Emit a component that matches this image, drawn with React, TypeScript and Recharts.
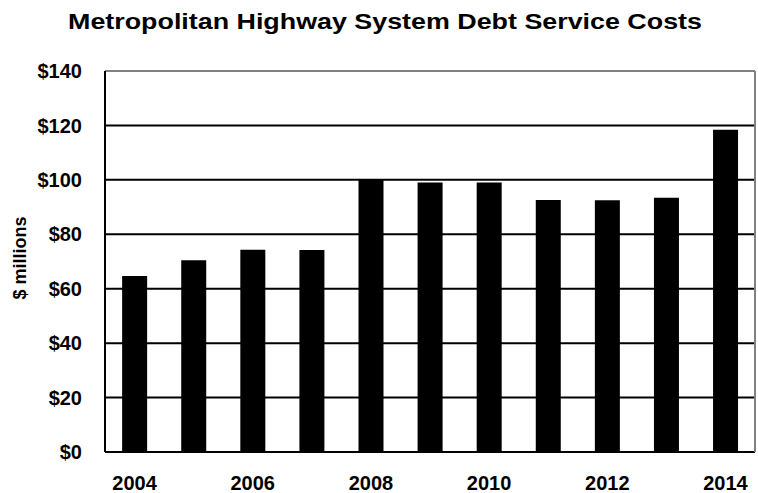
import React from "react";
import {
  BarChart,
  Bar,
  XAxis,
  YAxis,
  CartesianGrid,
  ReferenceLine,
} from "recharts";

const years = ["2004", "2005", "2006", "2007", "2008", "2009", "2010", "2011", "2012", "2013", "2014"];
const debtService = [64.7, 70.5, 74.3, 74.2, 100, 99, 99, 92.6, 92.5, 93.4, 118.4];
const yTicks = [0, 20, 40, 60, 80, 100, 120, 140];

const data = years.map((year, i) => ({ year, cost: debtService[i] }));

const FONT = "'Liberation Sans', Arial, sans-serif";

export default function App() {
  return (
    <div
      style={{
        position: "absolute",
        left: 0,
        top: 0,
        width: 758,
        height: 493,
        background: "#fff",
        fontFamily: FONT,
      }}
    >
      {/* Title */}
      <div
        style={{
          position: "absolute",
          top: 11,
          left: 35,
          width: 700,
          textAlign: "center",
          fontSize: 22,
          lineHeight: "22px",
          fontWeight: 700,
          color: "#000",
          whiteSpace: "nowrap",
          transform: "scaleX(1.22)",
          transformOrigin: "350px 0",
        }}
      >
        Metropolitan Highway System Debt Service Costs
      </div>

      {/* Y axis label */}
      <svg
        width={40}
        height={200}
        style={{ position: "absolute", left: 0, top: 158 }}
      >
        <text
          x={0}
          y={0}
          transform="translate(26,100) rotate(-90)"
          textAnchor="middle"
          fontSize={18}
          fontWeight={700}
          fontFamily={FONT}
          fill="#000"
        >
          $ millions
        </text>
      </svg>

      <BarChart
        width={758}
        height={493}
        data={data}
        margin={{ top: 71, right: 0, left: 0, bottom: 0 }}
        barCategoryGap="29%"
      >
        <CartesianGrid yAxisId="l" vertical={false} stroke="#000" strokeWidth={2} />
        <XAxis
          dataKey="year"
          height={41}
          interval={1}
          tickSize={0}
          tickMargin={24}
          axisLine={{ stroke: "#000", strokeWidth: 2 }}
          tickLine={false}
          tick={{ fontSize: 20, fontWeight: 700, fill: "#000", fontFamily: FONT }}
        />
        <YAxis
          yAxisId="l"
          width={105}
          domain={[0, 140]}
          ticks={yTicks}
          tickSize={0}
          tickMargin={23}
          tickFormatter={(v) => `$${v}`}
          axisLine={{ stroke: "#000", strokeWidth: 2 }}
          tickLine={false}
          tick={{ fontSize: 20, fontWeight: 700, fill: "#000", fontFamily: FONT }}
        />
        <YAxis
          yAxisId="r"
          orientation="right"
          width={3}
          domain={[0, 140]}
          tick={false}
          tickLine={false}
          axisLine={{ stroke: "#808080", strokeWidth: 2 }}
        />
        <ReferenceLine yAxisId="l" y={140} stroke="#808080" strokeWidth={2} />
        <Bar yAxisId="l" dataKey="cost" fill="#000" isAnimationActive={false} />
      </BarChart>
    </div>
  );
}
